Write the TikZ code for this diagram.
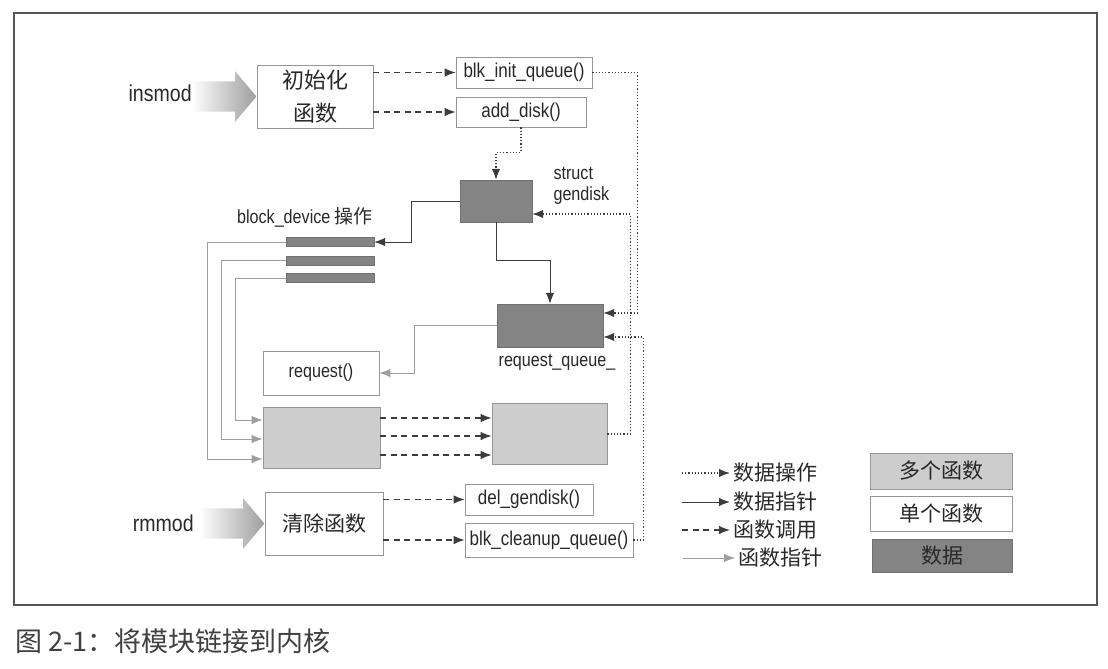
\documentclass[tikz,border=0pt]{standalone}
\usepackage{fontspec}
\setmainfont{Liberation Sans}[FakeStretch=0.85]
\newfontfamily\cjk{Noto Sans CJK SC}
\usetikzlibrary{
  arrows.meta,
  positioning,
  shapes.arrows
}
\definecolor{ink}{RGB}{40,40,40}
\definecolor{boxline}{RGB}{150,150,150}
\definecolor{multigray}{RGB}{205,205,205}
\definecolor{datagray}{RGB}{132,132,132}
\definecolor{ptrgray}{RGB}{158,158,158}
\definecolor{linedark}{RGB}{60,60,60}
\definecolor{framegray}{RGB}{85,85,85}

\begin{document}
\begin{tikzpicture}[
  x=1pt, y=-1pt,
  every node/.style={text=ink},
  fnbox/.style={
    draw=boxline,
    fill=white,
    line width=0.7pt,
    inner sep=0pt,
    font=\fontsize{20}{24}\selectfont,
    align=center
  },
  multibox/.style={fnbox, fill=multigray},
  databox/.style={
    draw=datagray!85!black,
    fill=datagray,
    line width=0.4pt,
    inner sep=0pt
  },
  cnlabel/.style={font=\cjk\fontsize{21}{25}\selectfont},
  lalabel/.style={font=\fontsize{19}{21}\selectfont, align=left},
  modlabel/.style={font=\fontsize{23}{26}\selectfont},
  modarrow/.style={
    single arrow,
    single arrow head extend=10pt,
    single arrow tip angle=100,
    minimum height=65pt,
    minimum width=50pt,
    inner xsep=0pt,
    inner ysep=15pt,
    draw=none,
    left color=white,
    right color=black!38
  },
  tip/.style={-{Latex[length=11pt, width=8.5pt]}},
  dataop/.style={draw=linedark, line width=1.2pt, dash pattern=on 1.2pt off 2pt},
  dataptr/.style={draw=linedark, line width=1pt},
  fcall/.style={draw=linedark, line width=1.1pt, dash pattern=on 6pt off 4.5pt},
  fptr/.style={draw=ptrgray, line width=1pt}
]
  \useasboundingbox (0,0) rectangle (1108,669);
  \draw[framegray, line width=1.3pt] (14,13) rectangle (1097,605);

  % Module entry and exit
  \node[fnbox, cnlabel, font=\cjk\fontsize{22}{33}\selectfont, minimum width=116pt, minimum height=63pt] (initfn) at (315, 96.5) {初始化\\函数};
  \node[fnbox, cnlabel, minimum width=118pt, minimum height=63pt] (cleanfn) at (324, 523.5) {清除函数};
  \node[modarrow, anchor=tip] (insarrow) at (initfn.west) {};
  \node[modlabel, anchor=east] (insmod) at ([xshift=4pt, yshift=3pt]insarrow.tail) {insmod};
  \node[modarrow, anchor=tip] (rmarrow) at (cleanfn.west) {};
  \node[modlabel, anchor=east] (rmmod) at ([xshift=-2pt]rmarrow.tail) {rmmod};

  % Kernel calls
  \node[fnbox, minimum width=136pt, minimum height=31pt] (blkinit) at (524, 72.5) {blk\_init\_queue()};
  \node[fnbox, minimum width=130pt, minimum height=30pt] (adddisk) at (521, 112) {add\_disk()};
  \node[fnbox, minimum width=128pt, minimum height=31pt] (delgd) at (529, 499.5) {del\_gendisk()};
  \node[fnbox, minimum width=168pt, minimum height=34pt] (blkclean) at (549, 540) {blk\_cleanup\_queue()};

  % Data structures
  \node[databox, minimum width=72pt, minimum height=42pt] (gendisk) at (496, 201) {};
  \node[lalabel, anchor=west] (gendisklbl) at (550, 186) {struct\\gendisk};
  \node[databox, minimum width=88pt, minimum height=9pt] (bar1) at (330, 242) {};
  \node[databox, minimum width=88pt, minimum height=9pt] (bar2) at (330, 260.5) {};
  \node[databox, minimum width=88pt, minimum height=9pt] (bar3) at (330, 278) {};
  \node[lalabel] (blkdev) at (305, 217) {block\_device {\cjk\fontsize{19}{21}\selectfont 操作}};
  \node[databox, minimum width=106pt, minimum height=43pt] (reqq) at (550, 325.5) {};
  \node[lalabel] (reqqlbl) at (557, 362) {request\_queue\_};

  % Driver functions
  \node[fnbox, font=\fontsize{19}{22}\selectfont, minimum width=116pt, minimum height=44pt] (request) at (321, 373) {request()};
  \node[multibox, minimum width=117pt, minimum height=61pt] (multiL) at (321.5, 437.5) {};
  \node[multibox, minimum width=115pt, minimum height=61pt] (multiR) at (549.5, 434) {};

  % Function calls
  \draw[fcall, tip] (initfn.east |- blkinit.west) -- (blkinit.west);
  \draw[fcall, tip] (initfn.east |- adddisk.west) -- (adddisk.west);
  \draw[fcall, tip] (cleanfn.east |- delgd.west) -- (delgd.west);
  \draw[fcall, tip] (cleanfn.east |- blkclean.west) -- (blkclean.west);
  \foreach \dy [count=\i] in {19.5, 1.5, -17.5} {
    \coordinate (call\i) at ([yshift=\dy pt]multiL.east);
    \draw[fcall, tip] (call\i) -- (call\i -| multiR.west);
  }

  % Data operations
  \draw[dataop, tip] (adddisk.south) -- ++(0,25) -| (gendisk.north);
  \draw[dataop, tip] (blkinit.east) -- ++(45,0) |- ([yshift=12.5pt]reqq.east);
  \draw[dataop, tip] (multiR.east) -- ++(23,0) |- ([yshift=-13pt]gendisk.east);
  \draw[dataop, tip] (blkclean.east) -- ++(10,0) |- ([yshift=-11.5pt]reqq.east);

  % Data pointers
  \draw[dataptr, tip] (gendisk.west) -- ++(-48,0) |- (bar1.east);
  \draw[dataptr, tip] (gendisk.south) -- ++(0,38) -| (reqq.north);

  % Function pointers
  \draw[fptr, tip] (reqq.west) -- ++(-82,0) |- (request.east);
  \foreach \b/\dx/\dy in {bar1/78/-21.5, bar2/64/-1.5, bar3/50/17.5}
    \draw[fptr, tip] (\b.west) -- ++(-\dx,0) |- ([yshift=\dy pt]multiL.west);

  % Legend
  \node[cnlabel, anchor=west] (lgop) at (730, 473) {数据操作};
  \node[cnlabel, anchor=west] (lgptr) at (730, 502) {数据指针};
  \node[cnlabel, anchor=west] (lgcall) at (730, 530) {函数调用};
  \node[cnlabel, anchor=west] (lgfptr) at (735, 558) {函数指针};
  \draw[dataop, tip] ([xshift=-48pt]lgop.west) -- (lgop.west);
  \draw[dataptr, tip] ([xshift=-48pt]lgptr.west) -- (lgptr.west);
  \draw[fcall, tip] ([xshift=-48pt]lgcall.west) -- (lgcall.west);
  \draw[fptr, tip] ([xshift=-52pt]lgfptr.west) -- (lgfptr.west);
  \node[multibox, cnlabel, minimum width=142pt, minimum height=36pt] (lgmulti) at (941, 471) {多个函数};
  \node[fnbox, cnlabel, minimum width=142pt, minimum height=35pt] (lgsingle) at (941, 513.5) {单个函数};
  \node[databox, cnlabel, minimum width=140pt, minimum height=33pt] (lgdata) at (942, 555.5) {数据};

  % Caption
  \node[anchor=west, text=black!75, font=\cjk\fontsize{27}{30}\selectfont] (caption) at (12, 641) {图 2-1：将模块链接到内核};
\end{tikzpicture}
\end{document}
